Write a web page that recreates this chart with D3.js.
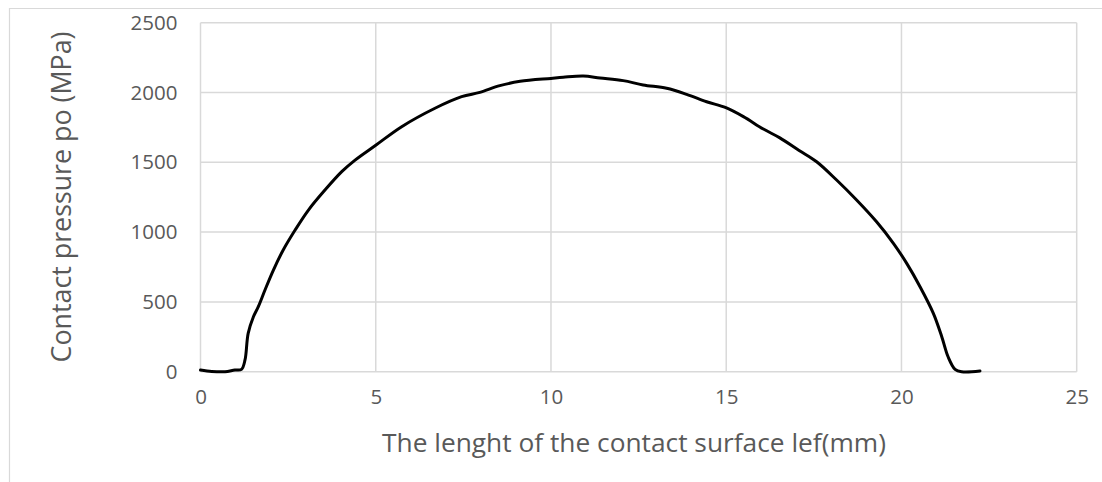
<!DOCTYPE html>
<html>
<head>
<meta charset="utf-8">
<script src="https://cdn.jsdelivr.net/npm/d3@7"></script>
<style>
  html, body { margin: 0; padding: 0; background: #fff; }
  svg { display: block; }
</style>
</head>
<body>
<svg id="chart" width="1102" height="482"></svg>
<script>
// === Data: contact pressure along the contact surface ===
const lengthMm = [0, 0.32, 0.7, 0.98, 1.17, 1.27, 1.36, 1.51, 1.65, 1.84, 2.08, 2.36, 2.70, 3.08, 3.55, 4.03,
    4.41, 5.01, 5.74, 6.69, 7.45, 7.97, 8.54, 9.12, 10.0, 10.35, 10.92, 11.40, 12.06, 12.63, 13.30, 13.87,
    14.44, 14.99, 15.49, 16.06, 16.53, 17.08, 17.58, 18.15, 18.72, 19.29, 19.77, 20.15, 20.53, 20.91,
    21.15, 21.33, 21.53, 21.72, 22.24];
const pressureMPa = [12, 2, 0, 12, 17, 84, 275, 394, 466, 585, 728, 872, 1015, 1158, 1301, 1433,
    1516, 1624, 1755, 1887, 1970, 2001, 2049, 2080, 2101, 2109, 2118, 2104, 2085, 2054, 2030, 1987,
    1934, 1891, 1827, 1738, 1675, 1585, 1504, 1373, 1230, 1074, 920, 776, 609, 418,
    251, 107, 17, 0, 5];
const xTicks = [0, 5, 10, 15, 20, 25];
const yTicks = [0, 500, 1000, 1500, 2000, 2500];
const xTitle = 'The lenght of the contact surface lef(mm)';
const yTitle = 'Contact pressure po (MPa)';

const W = 1102, H = 482;
const margin = { left: 200.5, right: W - 1076.7, top: 22.7, bottom: H - 371.7 };
const font = '"Open Sans", "Noto Sans", sans-serif';
const textColor = '#595959';
const gridColor = '#d9d9d9';

const svg = d3.select('#chart');

// Outer frame (cut off at right and bottom)
svg.append('path')
    .attr('d', `M9.5,${H}V8.5H${W}`)
    .attr('fill', 'none')
    .attr('stroke', gridColor)
    .attr('stroke-width', 1.2);

const x = d3.scaleLinear().domain([0, 25]).range([margin.left, W - margin.right]);
const y = d3.scaleLinear().domain([0, 2500]).range([H - margin.bottom, margin.top]);

// Gridlines
const grid = svg.append('g');
grid.selectAll('line.h')
    .data(yTicks)
    .join('line')
    .attr('class', 'h')
    .attr('x1', x(0)).attr('x2', x(25))
    .attr('y1', d => y(d)).attr('y2', d => y(d))
    .attr('stroke', gridColor).attr('stroke-width', 1.5);
grid.selectAll('line.v')
    .data(xTicks)
    .join('line')
    .attr('class', 'v')
    .attr('y1', y(0)).attr('y2', y(2500))
    .attr('x1', d => x(d)).attr('x2', d => x(d))
    .attr('stroke', gridColor).attr('stroke-width', 1.5);

// Axes (labels only, Excel style)
const xAxis = svg.append('g')
    .attr('transform', `translate(0,${y(0)})`)
    .call(d3.axisBottom(x).tickValues(xTicks).tickFormat(d3.format('d')).tickSize(0).tickPadding(25));
const yAxis = svg.append('g')
    .attr('transform', `translate(${x(0)},0)`)
    .call(d3.axisLeft(y).tickValues(yTicks).tickFormat(d3.format('d')).tickSize(0).tickPadding(23));
[xAxis, yAxis].forEach(a => {
    a.select('.domain').remove();
    a.selectAll('text')
        .attr('fill', textColor)
        .style('font-family', font)
        .style('font-size', '20.5px');
});
xAxis.selectAll('text').attr('dy', '0.35em');

// Curve
const pts = lengthMm.map((d, i) => [d, pressureMPa[i]]);
const line = d3.line()
    .x(d => x(d[0]))
    .y(d => y(d[1]))
    .curve(d3.curveCatmullRom.alpha(0.5));
svg.append('path')
    .datum(pts)
    .attr('d', line)
    .attr('fill', 'none')
    .attr('stroke', '#000')
    .attr('stroke-width', 3)
    .attr('stroke-linejoin', 'round')
    .attr('stroke-linecap', 'round');

// Axis titles
svg.append('text')
    .attr('x', 634).attr('y', 452)
    .attr('text-anchor', 'middle')
    .attr('fill', textColor)
    .style('font-family', font)
    .style('font-size', '26.3px')
    .text(xTitle);
svg.append('text')
    .attr('transform', 'translate(71,197) rotate(-90)')
    .attr('text-anchor', 'middle')
    .attr('fill', textColor)
    .style('font-family', font)
    .style('font-size', '26.8px')
    .text(yTitle);
</script>
</body>
</html>
